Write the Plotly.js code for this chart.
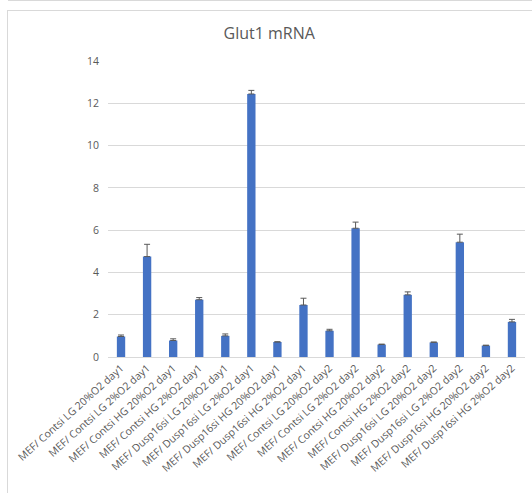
<!DOCTYPE html>
<html>
<head>
<meta charset="utf-8">
<script src="https://cdn.plot.ly/plotly-3.0.1.min.js"></script>
<style>
  html, body { margin: 0; padding: 0; background: #fff; }
  #wrap { position: relative; width: 532px; height: 493px; overflow: hidden; }
  #chart { position: absolute; left: 0; top: 0; width: 532px; height: 493px; }
  .ln { position: absolute; background: #d9d9d9; }
</style>
</head>
<body>
<div id="wrap">
  <div id="chart"></div>
  <div class="ln" style="left:8px; top:0px; width:524px; height:1px;"></div>
  <div class="ln" style="left:7px; top:10px; width:525px; height:1px;"></div>
  <div class="ln" style="left:7px; top:10px; width:1px; height:483px;"></div>
</div>
<script>
const categories = [
  "MEF/ Contsi LG 20%O2 day1",
  "MEF/ Contsi LG 2%O2 day1",
  "MEF/ Contsi HG 20%O2 day1",
  "MEF/ Contsi HG 2%O2 day1",
  "MEF/ Dusp16si LG 20%O2 day1",
  "MEF/ Dusp16si LG 2%O2 day1",
  "MEF/ Dusp16si HG 20%O2 day1",
  "MEF/ Dusp16si HG 2%O2 day1",
  "MEF/ Contsi LG 20%O2 day2",
  "MEF/ Contsi LG 2%O2 day2",
  "MEF/ Contsi HG 20%O2 day2",
  "MEF/ Contsi HG 2%O2 day2",
  "MEF/ Dusp16si LG 20%O2 day2",
  "MEF/ Dusp16si LG 2%O2 day2",
  "MEF/ Dusp16si HG 20%O2 day2",
  "MEF/ Dusp16si HG 2%O2 day2"
];
const glut1 = [0.97, 4.75, 0.78, 2.71, 1.0, 12.44, 0.71, 2.46, 1.24, 6.09, 0.59, 2.94, 0.69, 5.43, 0.54, 1.66];
const errPlus = [0.07, 0.58, 0.08, 0.1, 0.09, 0.17, 0.01, 0.32, 0.07, 0.29, 0.02, 0.14, 0.02, 0.38, 0.02, 0.12];
const yTicks = [0, 2, 4, 6, 8, 10, 12, 14];

const trace = {
  type: 'bar',
  x: categories,
  y: glut1,
  marker: { color: '#4472C4' },
  error_y: { type: 'data', symmetric: false, array: errPlus, arrayminus: errPlus.map(() => 0), color: '#595959', thickness: 1, width: 3 },
  hoverinfo: 'none'
};

const layout = {
  width: 532, height: 493,
  margin: { l: 108, r: 7, t: 61, b: 136 },
  paper_bgcolor: 'rgba(0,0,0,0)',
  plot_bgcolor: 'rgba(0,0,0,0)',
  bargap: 0.68,
  showlegend: false,
  font: { family: 'Open Sans, Noto Sans, sans-serif', color: '#595959' },
  title: {
    text: 'Glut1 mRNA',
    font: { size: 16, color: '#595959', family: 'Open Sans, Noto Sans, sans-serif' },
    x: 0.506, xref: 'container', xanchor: 'center',
    y: 1 - 33 / 493, yref: 'container', yanchor: 'middle'
  },
  xaxis: {
    type: 'category',
    tickangle: -42,
    tickfont: { size: 10.5, color: '#595959' },
    showgrid: false,
    showline: true, linecolor: '#d9d9d9', linewidth: 1,
    ticks: '', fixedrange: true
  },
  yaxis: {
    range: [0, 14],
    tickvals: yTicks,
    ticktext: yTicks.map(String),
    tickfont: { size: 10.5, color: '#595959' },
    showgrid: true, gridcolor: '#d9d9d9', gridwidth: 1,
    zeroline: false, showline: false,
    ticks: '', ticklabelstandoff: 8, fixedrange: true
  }
};

Plotly.newPlot('chart', [trace], layout, { staticPlot: true, displayModeBar: false });
</script>
</body>
</html>
